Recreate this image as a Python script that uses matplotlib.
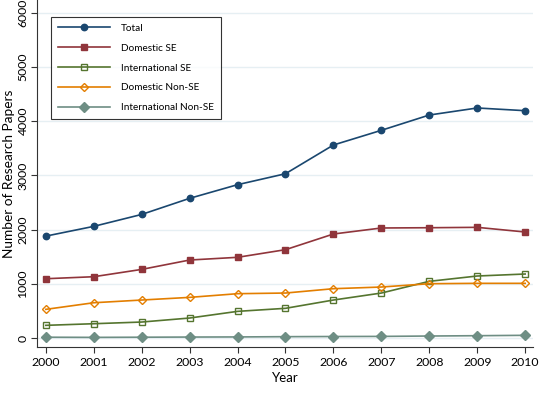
import matplotlib
matplotlib.use("Agg")
import matplotlib.pyplot as plt

plt.rcParams['font.family'] = ['Lato', 'DejaVu Sans']

years = [2000, 2001, 2002, 2003, 2004, 2005, 2006, 2007, 2008, 2009, 2010]
total = [1880, 2060, 2280, 2577, 2829, 3031, 3561, 3832, 4114, 4244, 4194]
domestic_se = [1094, 1131, 1266, 1439, 1489, 1630, 1919, 2030, 2035, 2042, 1956]
international_se = [234, 264, 295, 369, 492, 548, 701, 830, 1046, 1144, 1181]
domestic_non_se = [529, 651, 701, 750, 818, 830, 910, 941, 1002, 1009, 1009]
international_non_se = [15, 12, 15, 18, 20, 25, 28, 30, 37, 43, 50]

fig = plt.figure(figsize=(5.53, 4.03), dpi=100)
ax = fig.add_axes([0.0664, 0.1397, 0.898, 0.8603])

ax.set_facecolor('white')
for y in range(0, 7000, 1000):
    ax.axhline(y, color='#e6eff3', lw=1.0, zorder=0)

ax.plot(years, total, color='#1a476f', marker='o', ms=4.6, lw=1.2, label='Total')
ax.plot(years, domestic_se, color='#90353b', marker='s', ms=4.6, lw=1.2, label='Domestic SE')
ax.plot(years, international_se, color='#55752f', marker='s', ms=4.4, lw=1.2,
        mfc='none', mew=1.0, label='International SE')
ax.plot(years, domestic_non_se, color='#e37e00', marker='D', ms=4.2, lw=1.2,
        mfc='none', mew=1.0, label='Domestic Non-SE')
ax.plot(years, international_non_se, color='#6e8e84', marker='D', ms=4.6, lw=1.2,
        label='International Non-SE')

ax.set_xlim(1999.81, 2010.17)
ax.set_ylim(-160, 6236)
ax.set_xticks(years)
ax.set_yticks(range(0, 7000, 1000))
ax.tick_params(axis='both', labelsize=8.8, length=4, color='#333333')
ax.tick_params(axis='y', pad=2)
for lab in ax.get_yticklabels():
    lab.set_rotation(90)
    lab.set_va('center')

for s in ['top', 'right']:
    ax.spines[s].set_visible(False)
for s in ['left', 'bottom']:
    ax.spines[s].set_color('#333333')

ax.set_xlabel('Year', fontsize=9.5, labelpad=3)
ax.set_ylabel('Number of Research Papers', fontsize=9.8, labelpad=2)

leg = ax.legend(loc='upper left', bbox_to_anchor=(0.0288, 0.951), borderaxespad=0,
                fontsize=7.2, frameon=True, fancybox=False, edgecolor='black',
                handlelength=5.2, labelspacing=1.08, borderpad=0.7,
                handletextpad=1.1)
leg.get_frame().set_linewidth(0.8)

fig.savefig('out.png', dpi=100)
